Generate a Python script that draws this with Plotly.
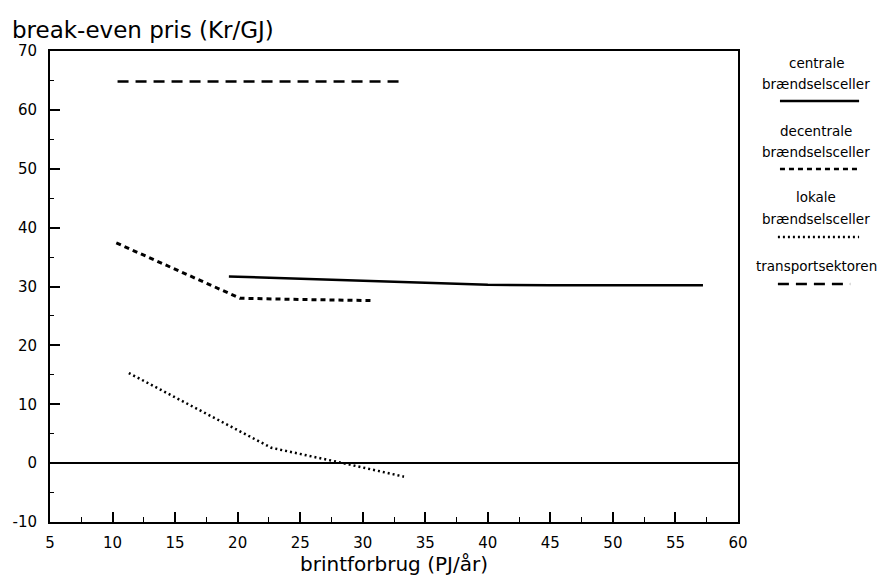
import plotly.graph_objects as go

# Data
centrale_x = [19.3, 25, 30, 35, 40, 45, 50, 57.2]
centrale_y = [31.7, 31.3, 30.9, 30.6, 30.3, 30.2, 30.2, 30.2]

decentrale_x = [10.3, 20.2, 25, 30.8]
decentrale_y = [37.4, 28.0, 27.8, 27.6]

lokale_x = [11.3, 22.7, 28.0, 33.3]
lokale_y = [15.3, 2.6, 0.2, -2.3]

transport_x = [10.4, 33.3]
transport_y = [64.8, 64.8]

y_tickvals = [-10, 0, 10, 20, 30, 40, 50, 60, 70]
y_ticktext = ["-10", "0", "10", "20", "30", "40", "50", "60", "70"]

legend_names = ["centrale<br>brændselsceller", "decentrale<br>brændselsceller",
                "lokale<br>brændselsceller", "transportsektoren"]

FONT = "DejaVu Sans"

fig = go.Figure()
fig.add_trace(go.Scatter(x=centrale_x, y=centrale_y, mode="lines",
                         line=dict(color="black", width=2.5, dash="solid"), showlegend=False))
fig.add_trace(go.Scatter(x=decentrale_x, y=decentrale_y, mode="lines",
                         line=dict(color="black", width=3, dash="5px,4px"), showlegend=False))
fig.add_trace(go.Scatter(x=lokale_x, y=lokale_y, mode="lines",
                         line=dict(color="black", width=2.5, dash="2px,3px"), showlegend=False))
fig.add_trace(go.Scatter(x=transport_x, y=transport_y, mode="lines",
                         line=dict(color="black", width=2.5, dash="11px,7px"), showlegend=False))

# Legend (text above sample line)
leg_text_y = [(0.9745, 0.930), (0.8301, 0.7856), (0.690, 0.6433), (0.5435,)]
leg_line_y = [0.8938, 0.7495, 0.6051, 0.5053]
leg_dash = ["solid", "5px,4px", "2px,3px", "11px,7px"]
leg_x0 = [1.061, 1.061, 1.058, 1.058]
leg_x1 = [1.176, 1.176, 1.176, 1.163]
for name, ty, ly, d, x0, x1 in zip(legend_names, leg_text_y, leg_line_y, leg_dash, leg_x0, leg_x1):
    parts = name.split("<br>")
    for p, yy in zip(parts, ty):
        fig.add_annotation(x=1.1134, y=yy, xref="paper", yref="paper", text=p,
                           showarrow=False, xanchor="center", yanchor="middle",
                           font=dict(family=FONT, size=13.5, color="black"))
    fig.add_shape(type="line", xref="paper", yref="paper", x0=x0, x1=x1, y0=ly, y1=ly,
                  line=dict(color="black", width=2.5, dash=d))

# Title (top-left)
fig.add_annotation(x=-0.0581, y=1.0446, xref="paper", yref="paper",
                   text="break-even pris (Kr/GJ)", showarrow=False,
                   xanchor="left", yanchor="middle",
                   font=dict(family=FONT, size=23, color="black"))

fig.update_layout(
    width=891, height=583,
    margin=dict(l=50, r=153, t=51, b=61, autoexpand=False),
    paper_bgcolor="white", plot_bgcolor="white",
    font=dict(family=FONT, color="black"),
)
fig.update_xaxes(range=[5, 60], dtick=5, tick0=5, showgrid=False, zeroline=False,
                 automargin=False,
                 showline=True, linecolor="black", linewidth=2, mirror=True,
                 ticks="inside", ticklen=10, tickwidth=1.5, tickcolor="black",
                 ticklabelstandoff=6,
                 minor=dict(ticks="inside", dtick=2.5, tick0=5, ticklen=5, tickwidth=1, tickcolor="black"),
                 tickfont=dict(family=FONT, size=15, color="black"),
                 title=dict(text="brintforbrug (PJ/år)", font=dict(family=FONT, size=20, color="black"), standoff=6))
fig.update_yaxes(range=[-10, 70], tickmode="array", tickvals=y_tickvals, ticktext=y_ticktext,
                 showgrid=False, automargin=False,
                 zeroline=True, zerolinecolor="black", zerolinewidth=2,
                 showline=True, linecolor="black", linewidth=2, mirror=True,
                 ticks="inside", ticklen=10, tickwidth=1.5, tickcolor="black",
                 ticklabelstandoff=8,
                 minor=dict(ticks="inside", dtick=5, tick0=0, ticklen=4, tickwidth=1, tickcolor="black"),
                 tickfont=dict(family=FONT, size=15, color="black"))

fig.write_html("out.html", config={"displayModeBar": False},
               post_script="document.body.style.margin='0';")
